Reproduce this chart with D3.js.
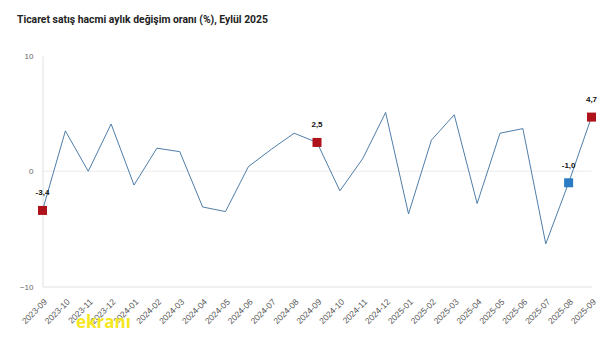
<!DOCTYPE html>
<html>
<head>
<meta charset="utf-8">
<script src="https://cdn.jsdelivr.net/npm/d3@7"></script>
<style>
html,body{margin:0;padding:0;background:#fff;}
svg{display:block;}
</style>
</head>
<body>
<svg id="chart" width="613" height="337"></svg>
<script>
const title = "Ticaret satış hacmi aylık değişim oranı (%), Eylül 2025";
const months = ["2023-09","2023-10","2023-11","2023-12","2024-01","2024-02","2024-03","2024-04","2024-05","2024-06","2024-07","2024-08","2024-09","2024-10","2024-11","2024-12","2025-01","2025-02","2025-03","2025-04","2025-05","2025-06","2025-07","2025-08","2025-09"];
const values = [-3.4,3.5,0.0,4.1,-1.2,2.0,1.7,-3.1,-3.5,0.4,1.9,3.3,2.5,-1.7,1.1,5.1,-3.7,2.7,4.9,-2.8,3.3,3.7,-6.3,-1.0,4.7];
const markedMonths = ["2023-09","2024-09","2025-08","2025-09"];
const markedColors = ["#b0121b","#b0121b","#2b7cc2","#b0121b"];
const yTicks = [-10,0,10];
const watermark = "ekranı";

const svg = d3.select("#chart");
const x = d3.scalePoint().domain(months).range([42.5, 591.5]);
const y = d3.scaleLinear().domain([-10,10]).range([286.5, 56]);

const t = svg.append("text").attr("x",17).attr("y",23)
  .attr("font-family","Roboto, sans-serif").attr("font-weight","bold")
  .attr("font-size","11.5px").attr("fill","#222").text(title);
t.attr("textLength",251).attr("lengthAdjust","spacingAndGlyphs");

// zero gridline
svg.append("line").attr("x1",x.range()[0]).attr("x2",x.range()[1])
  .attr("y1",y(0)).attr("y2",y(0)).attr("stroke","#ececec").attr("stroke-width",1);

// y axis
const yAxis = d3.axisLeft(y).tickValues(yTicks).tickSize(0).tickPadding(9).tickFormat(d3.format("d"));
const gy = svg.append("g").attr("transform",`translate(${x.range()[0]},0)`).call(yAxis);
gy.select(".domain").attr("stroke","#e0e0e0");
gy.selectAll("text").attr("font-family","Liberation Sans, Arial, sans-serif").attr("font-size","8px").attr("fill","#666");

// x axis (domain line only, labels drawn rotated)
const xAxis = d3.axisBottom(x).tickSize(0).tickFormat("");
const gx = svg.append("g").attr("transform",`translate(0,${y(-10)})`).call(xAxis);
gx.select(".domain").attr("stroke","#e0e0e0");
svg.append("g").selectAll("text").data(months).enter().append("text")
  .attr("transform",d=>`translate(${x(d)+5},${y(-10)+16}) rotate(-45)`)
  .attr("text-anchor","end")
  .attr("font-family","Liberation Sans, Arial, sans-serif").attr("font-size","8.5px").attr("fill","#555")
  .text(d=>d);

// line
const line = d3.line().x((d,i)=>x(months[i])).y(d=>y(d));
svg.append("path").datum(values).attr("d",line)
  .attr("fill","none").attr("stroke","#3a6f9e").attr("stroke-width",0.9);

// markers
const marks = markedMonths.map((m,i)=>({m, v: values[months.indexOf(m)], c: markedColors[i]}));
svg.selectAll("rect.mk").data(marks).enter().append("rect")
  .attr("x",d=>x(d.m)-4.5).attr("y",d=>y(d.v)-4.5).attr("width",9).attr("height",9)
  .attr("fill",d=>d.c);
const fmt = v => d3.format(".1f")(v).replace(".",",").replace("−","-");
svg.selectAll("text.lbl").data(marks).enter().append("text")
  .attr("x",d=>x(d.m)).attr("y",d=>y(d.v)-15)
  .attr("text-anchor","middle").attr("font-family","Liberation Sans, Arial, sans-serif")
  .attr("font-weight","bold").attr("font-size","8px").attr("fill","#111")
  .text(d=>fmt(d.v));

// watermark
svg.append("text").attr("x",76).attr("y",328)
  .attr("font-family","Open Sans, sans-serif").attr("font-weight","bold")
  .attr("font-size","17px").attr("fill","#f5e71e").text(watermark);
</script>
</body>
</html>
